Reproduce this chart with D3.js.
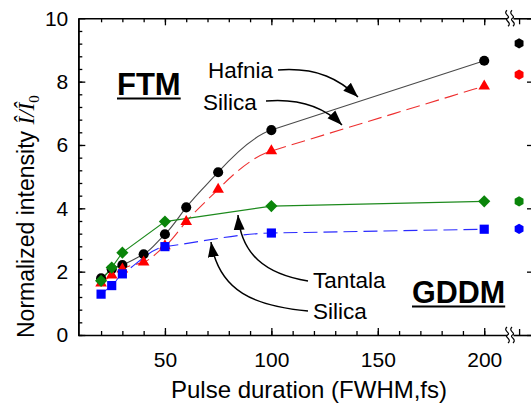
<!DOCTYPE html>
<html>
<head>
<meta charset="utf-8">
<script src="https://cdn.jsdelivr.net/npm/d3@7"></script>
<style>
  body { margin: 0; background: #fff; }
  text { font-family: "Liberation Sans", Arial, Helvetica, sans-serif; fill: #000; }
</style>
</head>
<body>
<div id="chart"></div>
<script>
// Data
const pulseFTM = [20, 25, 30, 40, 50, 60, 75, 100, 200]
const hafniaFTM = [1.79, 2.08, 2.21, 2.55, 3.18, 4.03, 5.14, 6.47, 8.66]
const silicaFTM = [1.64, 1.89, 2.08, 2.30, 2.81, 3.58, 4.60, 5.81, 7.86]
const pulseGDDM = [20, 25, 30, 50, 100, 200]
const tantalaGDDM = [1.71, 2.13, 2.60, 3.58, 4.07, 4.22]
const silicaGDDM = [1.29, 1.56, 1.93, 2.79, 3.22, 3.34]
// values past the axis break (hafnia, silica FTM, tantala, silica GDDM)
const longPulse = [9.21, 8.22, 4.22, 3.35]

const xMajor = [50, 100, 150, 200]
const xMinor = d3.range(20, 201, 10)
const yMajor = [0, 2, 4, 6, 8, 10]
const yMinor = d3.range(0, 25).map(i => +(i * 0.4).toFixed(1))

// Settings
const SIZE = [531, 406]
const MARGIN = {top: 18.3, right: -3, bottom: 71, left: 78.3}
const BREAK = [507, 513]

const x = d3.scaleLinear()
  .domain([9.3, 210.7])
  .range([MARGIN.left, BREAK[0]])

const xLong = d3.scalePoint()
  .domain(["long"])
  .range([BREAK[1], SIZE[0] - MARGIN.right])
  .align(0.29)

const y = d3.scaleLinear()
  .domain([0, 10])
  .range([SIZE[1] - MARGIN.bottom, MARGIN.top])

// hexagon symbol for the long pulse points
const symbolHexagon = {
  draw(context, size) {
    const r = Math.sqrt(size / (1.5 * Math.sqrt(3)))
    for (let i = 0; i < 6; i++) {
      const a = Math.PI / 6 + i * Math.PI / 3
      if (i === 0) context.moveTo(r * Math.cos(a), r * Math.sin(a))
      else context.lineTo(r * Math.cos(a), r * Math.sin(a))
    }
    context.closePath()
  }
}

// Tangent rules for the smoothed lines
// flat: the flatter of the two neighbouring secants
const flatTangent = (s0, s1, h0, h1) =>
  Math.sign(s0) !== Math.sign(s1) ? 0 : (Math.abs(s0) < Math.abs(s1) ? s0 : s1)
// lagged: keep the incoming slope, unless a much longer straight stretch follows
const laggedTangent = (s0, s1, h0, h1) => h1 > 2 * h0 ? s1 : s0

// Hermite curve through the points with a chosen tangent rule
const curveSmooth = tangent => context => {
  let pts
  return {
    areaStart() {}, areaEnd() {},
    lineStart() { pts = [] },
    point(px, py) { pts.push([+px, +py]) },
    lineEnd() {
      const n = pts.length
      const h = d3.range(n - 1).map(i => pts[i + 1][0] - pts[i][0])
      const s = d3.range(n - 1).map(i => (pts[i + 1][1] - pts[i][1]) / h[i])
      const m = pts.map((p, i) => {
        if (i === 0) return s[0]
        if (i === n - 1) return s[n - 2]
        return tangent(s[i - 1], s[i], h[i - 1], h[i])
      })
      context.moveTo(pts[0][0], pts[0][1])
      for (let i = 0; i < n - 1; i++) {
        const k = h[i] / 3
        context.bezierCurveTo(
          pts[i][0] + k, pts[i][1] + m[i] * k,
          pts[i + 1][0] - k, pts[i + 1][1] - m[i + 1] * k,
          pts[i + 1][0], pts[i + 1][1])
      }
    }
  }
}

const series = [
  {xs: pulseFTM, ys: hafniaFTM, extra: longPulse[0], fill: "#000", stroke: "#4a4a4a", dash: null,
   symbol: d3.symbolCircle, size: 80, rotate: 0, curve: curveSmooth(laggedTangent)},
  {xs: pulseFTM, ys: silicaFTM, extra: longPulse[1], fill: "#ff0000", stroke: "#ee3030", dash: "14,6",
   symbol: d3.symbolTriangle, size: 58, rotate: 0, curve: curveSmooth(laggedTangent)},
  {xs: pulseGDDM, ys: silicaGDDM, extra: longPulse[3], fill: "#0000ff", stroke: "#2a2aff", dash: "14,6",
   symbol: d3.symbolSquare, size: 84, rotate: 0, curve: curveSmooth(flatTangent)},
  {xs: pulseGDDM, ys: tantalaGDDM, extra: longPulse[2], fill: "#0a850a", stroke: "#1d8a1d", dash: null,
   symbol: d3.symbolSquare, size: 74, rotate: 45, curve: d3.curveLinear},
]

const svg = d3.select("#chart").append("svg")
  .attr("width", SIZE[0])
  .attr("height", SIZE[1])

svg.append("defs").append("marker")
    .attr("id", "arrow")
    .attr("markerUnits", "userSpaceOnUse")
    .attr("markerWidth", 16)
    .attr("markerHeight", 14)
    .attr("viewBox", "0 -7 16 14")
    .attr("refX", 15)
    .attr("refY", 0)
    .attr("orient", "auto")
  .append("path")
    .attr("d", "M0,-5.5L15,0L0,5.5Z")
    .attr("fill", "#000")

// Axes: ticks point inward on all sides
function tickAxis(axis, values, size, labels) {
  return g => g.call(axis.tickValues(values).tickSize(size).tickSizeOuter(0)
      .tickFormat(labels ? d3.format("d") : ""))
    .call(g => g.selectAll("line").attr("stroke", "#000").attr("stroke-width", 1.3))
    .call(g => g.select(".domain").attr("stroke", "#000").attr("stroke-width", 1.6))
}

const yBottom = y.range()[0], yTop = y.range()[1]

svg.append("g").attr("transform", `translate(0,${yBottom})`)
  .call(tickAxis(d3.axisBottom(x), xMinor, -4, false))
svg.append("g").attr("transform", `translate(0,${yBottom})`)
  .call(tickAxis(d3.axisBottom(x).tickPadding(17), xMajor, -7, true))
  .call(g => g.select(".domain").remove())
  .call(g => g.selectAll("text").attr("font-size", 21).attr("font-family", null))
svg.append("g").attr("transform", `translate(0,${yBottom})`)
  .call(tickAxis(d3.axisBottom(xLong), ["long"], -6, false))

svg.append("g").attr("transform", `translate(0,${yTop})`)
  .call(tickAxis(d3.axisTop(x), xMinor, -4, false))
svg.append("g").attr("transform", `translate(0,${yTop})`)
  .call(tickAxis(d3.axisTop(x), xMajor, -7, false))
  .call(g => g.select(".domain").remove())
svg.append("g").attr("transform", `translate(0,${yTop})`)
  .call(tickAxis(d3.axisTop(xLong), ["long"], -6, false))

svg.append("g").attr("transform", `translate(${MARGIN.left},0)`)
  .call(tickAxis(d3.axisLeft(y), yMinor, -4, false))
svg.append("g").attr("transform", `translate(${MARGIN.left},0)`)
  .call(tickAxis(d3.axisLeft(y).tickPadding(10), yMajor, -7, true))
  .call(g => g.selectAll("text").attr("font-size", 21).attr("font-family", null))

const xRight = SIZE[0] - MARGIN.right
svg.append("g").attr("transform", `translate(${xRight},0)`)
  .call(tickAxis(d3.axisRight(y), yMajor, -7, false))

// Axis break marks
for (const yy of [yTop, yBottom]) {
  for (const bx of [BREAK[0] + 0.5, BREAK[1] - 0.5]) {
    const p = d3.path()
    p.moveTo(bx - 0.5, yy - 8)
    p.bezierCurveTo(bx - 5, yy - 4, bx + 4, yy - 2, bx, yy)
    p.bezierCurveTo(bx - 4, yy + 2, bx + 5, yy + 4, bx + 0.5, yy + 8)
    svg.append("path")
      .attr("d", p.toString())
      .attr("fill", "none")
      .attr("stroke", "#000")
      .attr("stroke-width", 1.2)
  }
}

// Lines
const line = d => d3.line()
  .x(i => x(d.xs[i]))
  .y(i => y(d.ys[i]))
  .curve(d.curve)(d3.range(d.xs.length))

svg.append("g")
    .attr("fill", "none")
  .selectAll("path")
  .data(series)
  .join("path")
    .attr("d", line)
    .attr("stroke", d => d.stroke)
    .attr("stroke-width", 1.1)
    .attr("stroke-dasharray", d => d.dash)

// Markers
for (const s of series) {
  svg.append("g")
    .selectAll("path")
    .data(d3.range(s.xs.length))
    .join("path")
      .attr("transform", i => `translate(${x(s.xs[i])},${y(s.ys[i])}) rotate(${s.rotate})`)
      .attr("d", d3.symbol(s.symbol, s.size))
      .attr("fill", s.fill)
}

svg.append("g")
  .selectAll("path")
  .data(series)
  .join("path")
    .attr("transform", d => `translate(${xLong("long")},${y(d.extra)})`)
    .attr("d", d3.symbol(symbolHexagon, 68))
    .attr("fill", d => d.fill)

// Annotations
function label(text, px, py, size, bold, underline) {
  const t = svg.append("text")
    .attr("x", px)
    .attr("y", py)
    .attr("font-size", size)
    .attr("font-weight", bold ? "bold" : null)
    .text(text)
  if (underline) {
    const w = t.node().getComputedTextLength()
    svg.append("line")
      .attr("x1", px).attr("x2", px + w)
      .attr("y1", py + 3.5).attr("y2", py + 3.5)
      .attr("stroke", "#000")
      .attr("stroke-width", 2)
  }
  return t
}

label("FTM", 117, 95, 31, true, true)
label("GDDM", 412, 303, 30.5, true, true)
label("Hafnia", 208, 78, 22.5)
label("Silica", 203, 110, 22.5)
label("Tantala", 313, 288, 22.5)
label("Silica", 313, 319, 22.5)

const arrows = [
  "M278,70 C318,67 340,80 358,97",
  "M266,101 C302,98 325,108 342,125",
  "M308,281 C265,274 241,254 238,215",
  "M308,311 C255,306 219,292 211,242",
]
svg.append("g")
  .selectAll("path")
  .data(arrows)
  .join("path")
    .attr("d", d => d)
    .attr("fill", "none")
    .attr("stroke", "#000")
    .attr("stroke-width", 1.5)
    .attr("marker-end", "url(#arrow)")

// Axis titles
svg.append("text")
  .attr("x", 309)
  .attr("y", 398)
  .attr("text-anchor", "middle")
  .attr("font-size", 24)
  .text("Pulse duration (FWHM,fs)")

const yTitle = svg.append("text")
  .attr("transform", "translate(34,338) rotate(-90)")
  .attr("font-size", 23)
yTitle.append("tspan").text("Normalized intensity ")
yTitle.append("tspan")
  .attr("font-family", "'Liberation Serif', 'Times New Roman', serif")
  .attr("font-style", "italic")
  .attr("font-size", 23)
  .text("Î/Î")
yTitle.append("tspan")
  .attr("font-family", "'Liberation Serif', 'Times New Roman', serif")
  .attr("font-size", 15)
  .attr("dy", 5)
  .text("0")
</script>
</body>
</html>
